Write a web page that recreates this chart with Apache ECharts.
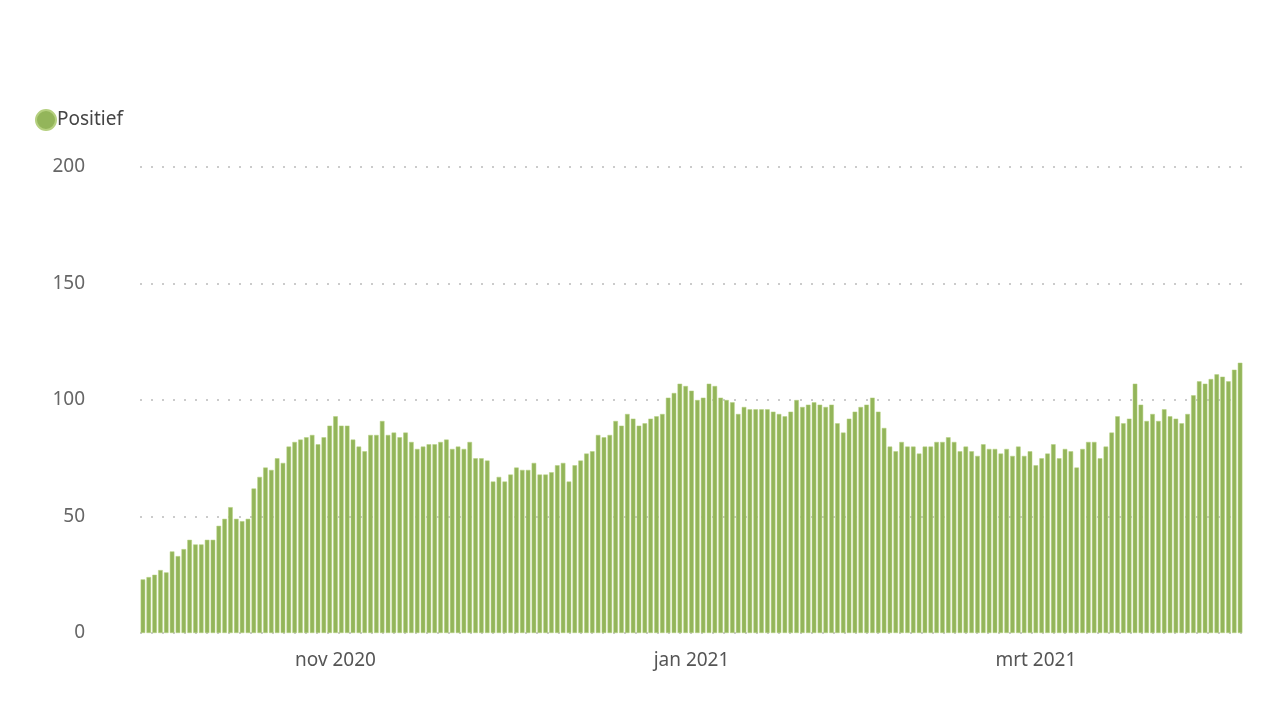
<!DOCTYPE html>
<html><head><meta charset="utf-8">
<script src="https://cdn.jsdelivr.net/npm/echarts@6/dist/echarts.min.js"></script>
<style>html,body{margin:0;background:#fff}#c{width:1280px;height:718px}</style>
</head><body><div id="c"></div>
<script>
const startDate = '2020-09-29';
const positief = [
23,24,25,27,26,35,33,36,40,38,38,40,40,46,49,54,49,48,49,62,67,71,70,75,73,80,82,83,84,85,81,84,89,93,89,89,83,80,78,85,85,91,85,86,84,86,
82,79,80,81,81,82,83,79,80,79,82,75,75,74,65,67,65,68,71,70,70,73,68,68,69,72,73,65,72,74,77,78,85,84,85,91,89,94,92,89,90,92,93,94,101,103,
107,106,104,100,101,107,106,101,100,99,94,97,96,96,96,96,95,94,93,95,100,97,98,99,98,97,98,90,86,92,95,97,98,101,95,88,80,78,82,80,80,77,80,80,82,82,84,82,78,
80,78,76,81,79,79,77,79,76,80,76,78,72,75,77,81,75,79,78,71,79,82,82,75,80,86,93,90,92,107,98,91,94,91,96,93,92,90,94,102,108,107,109,111,110,108,113,116
];
const tickLabels = {'2020-11-01':'nov 2020','2021-01-01':'jan 2021','2021-03-01':'mrt 2021'};
const dates = positief.map((_, i) => {
  const d = new Date(startDate + 'T00:00:00Z'); d.setUTCDate(d.getUTCDate() + i);
  return d.toISOString().slice(0, 10);
});
const chart = echarts.init(document.getElementById('c'));
chart.setOption({
  animation:false,
  textStyle:{fontFamily:'Noto Sans'},
  legend:{left:30,top:104,icon:'circle',itemWidth:20,itemHeight:20,itemGap:4,
    textStyle:{fontSize:19,color:'#444',padding:[0,0,0,-4]},data:['Positief']},
  grid:{left:140,right:37,top:167,bottom:85},
  xAxis:{type:'category',data:dates,boundaryGap:true,
    axisLine:{show:false},axisTick:{show:false},
    axisLabel:{interval:(i,v)=>!!tickLabels[v],formatter:v=>tickLabels[v]||'',fontSize:19,color:'#555',margin:18}},
  yAxis:{type:'value',min:0,max:200,interval:50,
    axisLabel:{fontSize:19,color:'#666',margin:55},
    splitLine:{lineStyle:{type:[2,9],color:'#bbb',width:1.5}}},
  series:[{name:'Positief',type:'bar',data:positief,barCategoryGap:'22%',
    itemStyle:{color:'#93b55a',borderColor:'#b5d07f',borderWidth:0.5}}]
});
</script></body></html>
